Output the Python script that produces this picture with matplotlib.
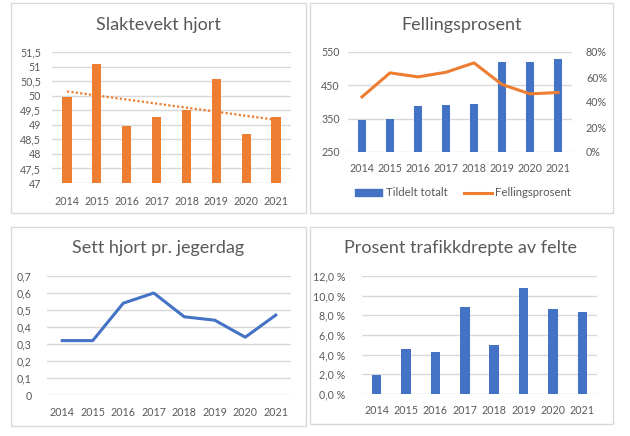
import numpy as np
import matplotlib.pyplot as plt
from matplotlib.patches import Rectangle, Patch
from matplotlib.lines import Line2D
from matplotlib.ticker import FuncFormatter, MultipleLocator

plt.rcParams['font.family'] = ['Lato', 'DejaVu Sans']

years = ['2014', '2015', '2016', '2017', '2018', '2019', '2020', '2021']

# Slaktevekt hjort (kg)
slaktevekt = [49.95, 51.08, 48.95, 49.26, 49.51, 50.58, 48.67, 49.26]
# Fellingsprosent
tildelt = [346, 348, 389, 390, 393, 519, 519, 529]
fellingsprosent = [44.1, 63.3, 60.1, 63.8, 71.3, 54.0, 46.5, 47.6]
# Sett hjort pr. jegerdag
sett_hjort = [0.32, 0.32, 0.54, 0.60, 0.46, 0.44, 0.34, 0.47]
# Prosent trafikkdrepte av felte
trafikkdrepte = [1.96, 4.56, 4.28, 8.82, 5.03, 10.74, 8.68, 8.31]

ORANGE = '#ED7D31'
BLUE = '#4472C4'
GRID = '#D9D9D9'
TXT = '#595959'
W, H = 630, 436

fig = plt.figure(figsize=(W / 100, H / 100), dpi=100)


def px_axes(x0, y0, x1, y1):
    return fig.add_axes([x0 / W, 1 - y1 / H, (x1 - x0) / W, (y1 - y0) / H])


def frame(x0, y0, x1, y1):
    fig.patches.append(Rectangle((x0 / W, 1 - y1 / H), (x1 - x0) / W, (y1 - y0) / H,
                                 transform=fig.transFigure, fill=False,
                                 edgecolor=GRID, linewidth=1))


def title(x, y, s):
    fig.text(x / W, 1 - y / H, s, ha='center', va='center', fontsize=13, color=TXT)


def style(ax):
    for s in ax.spines.values():
        s.set_visible(False)
    ax.grid(axis='y', color=GRID, linewidth=1)
    ax.set_axisbelow(True)
    ax.tick_params(length=0, labelsize=7.7, labelcolor=TXT)
    ax.tick_params(axis='x', pad=9)
    ax.set_xlim(-0.5, 7.5)
    ax.set_xticks(range(len(years)))
    ax.set_xticklabels(years)


def comma(fmt):
    return FuncFormatter(lambda v, p: fmt(v).replace('.', ','))


x = np.arange(len(years))

# --- Slaktevekt hjort
frame(11, 3, 306, 213)
title(158, 25, 'Slaktevekt hjort')
ax1 = px_axes(52, 52, 291, 183)
style(ax1)
ax1.bar(x, slaktevekt, width=0.31, color=ORANGE)
k, m = np.polyfit(x, slaktevekt, 1)
ax1.plot(x, k * x + m, linestyle=(0, (1, 1)), color=ORANGE, linewidth=1.6)
ax1.set_ylim(47, 51.5)
ax1.yaxis.set_major_locator(MultipleLocator(0.5))
ax1.yaxis.set_major_formatter(comma(lambda v: f'{v:g}'))
ax1.tick_params(axis='y', pad=8)

# --- Fellingsprosent
frame(310, 3, 613, 213)
title(462, 25, 'Fellingsprosent')
ax2 = px_axes(348, 52, 572, 152)
style(ax2)
ax2.bar(x, tildelt, width=0.32, color=BLUE)
ax2.set_ylim(250, 550)
ax2.set_yticks([250, 350, 450, 550])
ax2.tick_params(axis='y', pad=6)
ax2.tick_params(axis='x', pad=8)
ax2b = ax2.twinx()
for s in ax2b.spines.values():
    s.set_visible(False)
ax2b.plot(x, fellingsprosent, color=ORANGE, linewidth=2.2)
ax2b.set_ylim(0, 80)
ax2b.set_yticks([0, 20, 40, 60, 80])
ax2b.yaxis.set_major_formatter(FuncFormatter(lambda v, p: f'{v:.0f}%'))
ax2b.tick_params(length=0, labelsize=7.7, labelcolor=TXT, pad=10)
handles = [Patch(color=BLUE, label='Tildelt totalt'),
           Line2D([], [], color=ORANGE, linewidth=2.2, label='Fellingsprosent')]
leg = fig.legend(handles=handles, loc='center', bbox_to_anchor=(463 / W, 1 - 193 / H),
                 ncol=2, frameon=False, fontsize=8.2, handlelength=2.4,
                 handletextpad=0.3, columnspacing=1.5)
for t in leg.get_texts():
    t.set_color(TXT)

# --- Sett hjort pr. jegerdag
frame(11, 227, 306, 426)
title(158, 248, 'Sett hjort pr. jegerdag')
ax3 = px_axes(47, 276, 291, 395)
style(ax3)
ax3.plot(x, sett_hjort, color=BLUE, linewidth=2.2)
ax3.set_ylim(0, 0.7)
ax3.yaxis.set_major_locator(MultipleLocator(0.1))
ax3.yaxis.set_major_formatter(comma(lambda v: f'{v:.1f}' if v > 0 else '0'))
ax3.tick_params(axis='y', pad=11)

# --- Prosent trafikkdrepte av felte
frame(310, 227, 613, 424)
title(460, 248, 'Prosent trafikkdrepte av felte')
ax4 = px_axes(362, 276, 597, 394)
style(ax4)
ax4.bar(x, trafikkdrepte, width=0.32, color=BLUE)
ax4.set_ylim(0, 12)
ax4.yaxis.set_major_locator(MultipleLocator(2))
ax4.yaxis.set_major_formatter(comma(lambda v: f'{v:.1f} %'))
ax4.tick_params(axis='y', pad=12)
ax4.tick_params(axis='x', pad=8)

fig.savefig('out.png', dpi=100)
